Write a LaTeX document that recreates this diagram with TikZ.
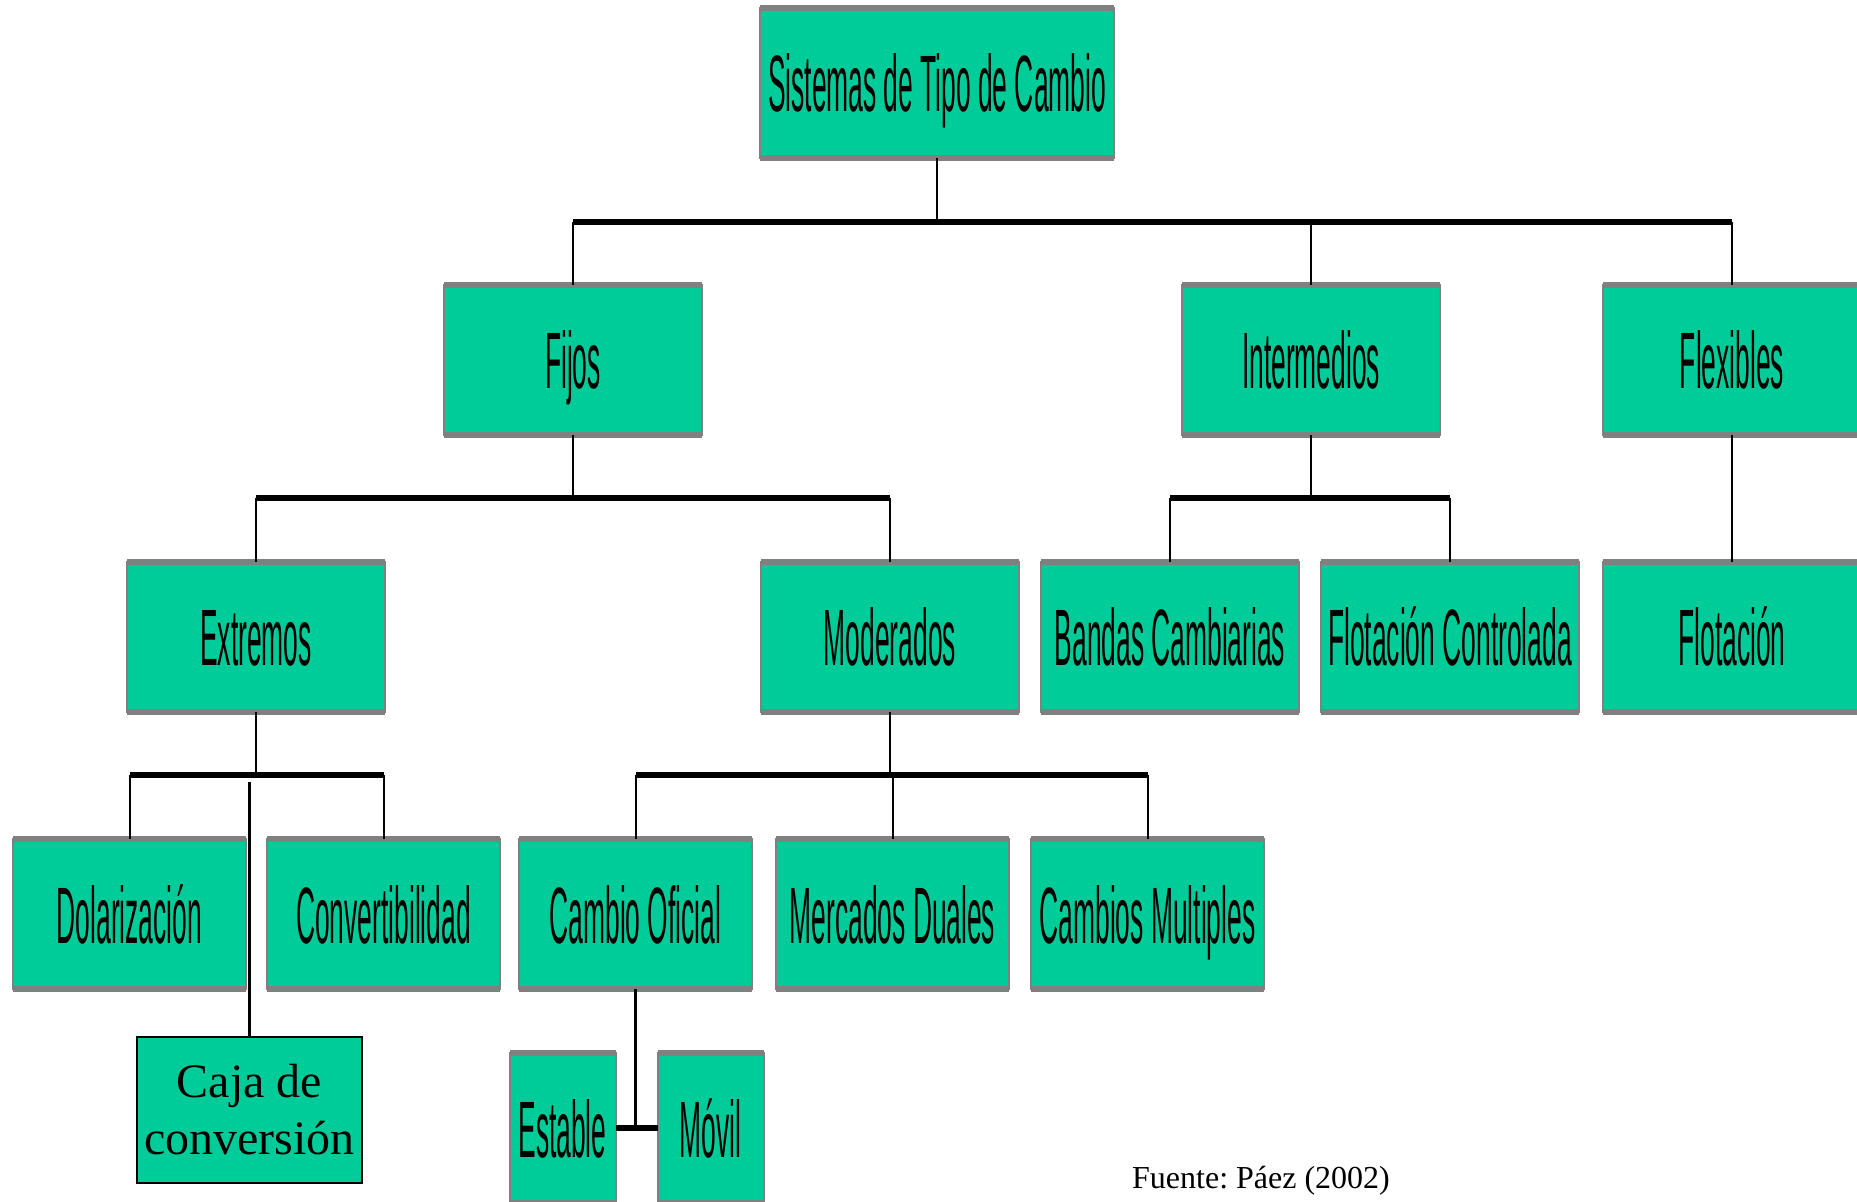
\documentclass[tikz,border=0pt]{standalone}
\usepackage{fontspec}
\setmainfont{Liberation Serif}
\newfontfamily\narrowfont[FakeStretch=0.33]{Liberation Sans}
\usetikzlibrary{positioning}
\definecolor{boxgreen}{RGB}{0,204,153}
\definecolor{boxgray}{RGB}{128,128,128}
\tikzset{
  cbox/.style={rectangle, fill=boxgreen, draw=boxgray, line width=1pt, inner sep=0pt,
    outer sep=0pt, minimum width=129pt, minimum height=75pt, text height=29pt,
    text depth=0pt, font=\narrowfont\fontsize{40}{40}\selectfont},
  smallbox/.style={cbox, minimum width=116.5pt},
  cajabox/.style={rectangle, fill=boxgreen, draw=black, line width=1.1pt, inner sep=0pt,
    outer sep=0pt, minimum width=112.5pt, minimum height=73pt, align=center,
    font=\fontsize{24}{28.5}\selectfont},
  rim/.style={draw=boxgray, line width=3pt},
  link/.style={line width=1pt},
  bar/.style={line width=2.8pt},
}
\begin{document}
\begin{tikzpicture}
    \clip (0,0) rectangle (928.5pt,-601pt);
    % boxes
    \node[cbox, minimum width=177pt] (root) at (468.5pt,-41.5pt) {Sistemas de Tipo de Cambio};
    \node[cbox, below=63.5pt of root, xshift=-182pt] (fijos) {Fijos};
    \node[cbox, right=240pt of fijos] (inter) {Intermedios};
    \node[cbox, right=81.5pt of inter] (flex) {Flexibles};
    \node[cbox, below=63.5pt of fijos, xshift=-158.5pt] (extremos) {Extremos};
    \node[cbox, right=188pt of extremos] (moderados) {Moderados};
    \node[cbox, right=11pt of moderados] (bandas) {Bandas Cambiarias};
    \node[cbox, right=11pt of bandas] (flotcon) {Flotación Controlada};
    \node[cbox, below=63.5pt of flex] (flotacion) {Flotación};
    \node[smallbox, below=63.5pt of extremos, xshift=-63.25pt] (dolar) {Dolarización};
    \node[smallbox, right=10.5pt of dolar] (convert) {Convertibilidad};
    \node[cajabox, below=24pt of dolar, xshift=60pt] (caja) {Caja de\\conversión};
    \node[smallbox, below=63.5pt of moderados, xshift=-127.25pt] (oficial) {Cambio Oficial};
    \node[smallbox, right=12pt of oficial] (duales) {Mercados Duales};
    \node[smallbox, right=11pt of duales] (multiples) {Cambios Multiples};
    \node[cbox, minimum width=53pt, below=32pt of oficial, xshift=-36.5pt] (estable) {Estable};
    \node[cbox, minimum width=53pt, right=21pt of estable] (movil) {Móvil};
    \node[font=\fontsize{16}{19}\selectfont] (fuente) at (630.5pt,-590.5pt) {Fuente:\ Páez (2002)};
    \foreach \n in {root,fijos,inter,flex,extremos,moderados,bandas,flotcon,flotacion,
                    dolar,convert,oficial,duales,multiples,estable,movil}
      \draw[rim] (\n.north west) -- (\n.north east) (\n.south west) -- (\n.south east);
    % first level
    \coordinate[below=32pt of root] (b1);
    \draw[link] (root) -- (b1);
    \draw[bar] (fijos |- b1) -- (flex |- b1);
    \foreach \n in {fijos,inter,flex}
      \draw[link] (\n) -- (\n |- b1);
    % second level
    \coordinate[below=31.5pt of fijos] (b2);
    \draw[link] (fijos) -- (b2);
    \draw[bar] (extremos |- b2) -- (moderados |- b2);
    \foreach \n in {extremos,moderados}
      \draw[link] (\n) -- (\n |- b2);
    \coordinate[below=31.5pt of inter] (b2i);
    \draw[link] (inter) -- (b2i);
    \draw[bar] (bandas |- b2i) -- (flotcon |- b2i);
    \foreach \n in {bandas,flotcon}
      \draw[link] (\n) -- (\n |- b2i);
    \draw[link] (flex) -- (flotacion);
    % third level
    \coordinate[below=31.5pt of extremos] (b3);
    \draw[link] (extremos) -- (b3);
    \draw[bar] (dolar |- b3) -- (convert |- b3);
    \foreach \n in {dolar,convert}
      \draw[link] (\n) -- (\n |- b3);
    \draw[line width=1.6pt] ([yshift=-3.5pt]caja.north |- b3) -- (caja);
    \coordinate[below=31.5pt of moderados] (b3m);
    \draw[link] (moderados) -- (b3m);
    \draw[bar] (oficial |- b3m) -- (multiples |- b3m);
    \foreach \n in {oficial,duales,multiples}
      \draw[link] (\n) -- (\n |- b3m);
    % cambio oficial
    \draw[bar] (estable) -- (movil);
    \draw[line width=1.2pt] (oficial) -- (oficial |- estable.east);
\end{tikzpicture}
\end{document}
